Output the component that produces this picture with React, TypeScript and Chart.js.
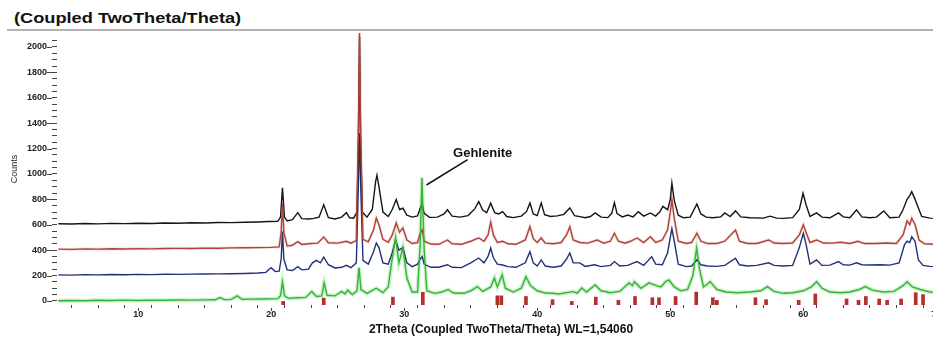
import React, { useEffect, useRef } from "react";
import { Chart, registerables } from "chart.js";

Chart.register(...registerables);

// ---- data (2Theta in degrees, intensity in counts) ----
const blackTrace: number[][] = [
  [4, 608], [5, 606], [6, 610], [7, 607], [8, 611], [9, 609], [10, 612], [11, 610], [12, 614], [13, 612],
  [14, 616], [15, 614], [16, 618], [17, 617], [18, 620], [19, 622], [19.8, 625], [20.5, 627], [20.7, 660],
  [20.85, 890], [21.0, 660], [21.2, 630], [21.6, 640], [22.0, 695], [22.3, 648], [22.8, 645], [23.2, 650],
  [23.6, 660], [23.95, 758], [24.3, 655], [24.8, 645], [25.3, 660], [25.65, 695], [25.9, 655], [26.2, 652],
  [26.45, 700], [26.55, 1200], [26.64, 2080], [26.73, 1200], [26.85, 700], [27.2, 660], [27.6, 720],
  [27.85, 940], [27.95, 990], [28.1, 900], [28.4, 700], [28.8, 665], [29.1, 720], [29.4, 798], [29.65, 720],
  [29.9, 730], [30.2, 675], [30.6, 660], [31.0, 670], [31.2, 730], [31.35, 760], [31.5, 690], [31.9, 658],
  [32.5, 660], [33.0, 685], [33.25, 718], [33.6, 668], [34.2, 660], [34.8, 672], [35.3, 725], [35.6, 782],
  [35.9, 715], [36.2, 695], [36.5, 770], [36.8, 695], [37.1, 685], [37.4, 703], [37.7, 665], [38.2, 656],
  [38.8, 668], [39.2, 705], [39.45, 772], [39.7, 685], [40.0, 672], [40.3, 772], [40.55, 680], [41.0, 665],
  [41.5, 670], [42.0, 682], [42.45, 732], [42.8, 672], [43.2, 664], [43.6, 655], [44.0, 665], [44.35, 693],
  [44.8, 660], [45.3, 656], [45.6, 690], [45.8, 774], [46.0, 688], [46.4, 662], [46.8, 677], [47.2, 662],
  [47.6, 703], [48.0, 668], [48.5, 693], [48.9, 668], [49.2, 700], [49.45, 745], [49.8, 718], [50.0, 800],
  [50.12, 928], [50.3, 790], [50.6, 675], [51.0, 655], [51.5, 660], [52.0, 764], [52.3, 685], [52.7, 660],
  [53.2, 655], [53.8, 662], [54.1, 693], [54.5, 665], [54.9, 709], [55.3, 662], [56.0, 655], [57.0, 652],
  [57.5, 668], [58.0, 652], [58.5, 650], [59.2, 656], [59.7, 720], [59.98, 848], [60.2, 760], [60.5, 665],
  [61.0, 693], [61.4, 660], [62.0, 655], [62.65, 693], [63.0, 662], [63.5, 655], [64.0, 717], [64.4, 662],
  [65.0, 655], [65.5, 660], [66.05, 709], [66.5, 655], [67.2, 660], [67.5, 720], [67.8, 800], [68.0, 830],
  [68.15, 861], [68.4, 800], [68.65, 732], [68.9, 665], [69.5, 652], [70.8, 650],
];

const redTrace: number[][] = [
  [4, 408], [5, 406], [6, 410], [7, 408], [8, 411], [9, 409], [10, 412], [11, 410], [12, 413], [13, 414],
  [14, 413], [15, 416], [16, 415], [17, 418], [18, 419], [19, 420], [20, 422], [20.6, 426], [20.75, 540],
  [20.85, 770], [20.95, 540], [21.2, 432], [21.6, 438], [22.0, 467], [22.3, 445], [23.0, 452], [23.5, 455],
  [23.95, 504], [24.3, 458], [25.0, 455], [25.65, 470], [26.0, 455], [26.4, 475], [26.55, 1300], [26.64, 2110],
  [26.73, 1300], [26.9, 485], [27.3, 465], [27.7, 560], [27.9, 653], [28.1, 600], [28.4, 485], [28.8, 462],
  [29.1, 520], [29.4, 614], [29.65, 540], [29.9, 575], [30.2, 480], [30.6, 452], [31.0, 460], [31.2, 530],
  [31.35, 560], [31.5, 470], [32.0, 448], [32.6, 446], [33.25, 480], [33.6, 450], [34.3, 446], [35.0, 470],
  [35.6, 496], [36.0, 470], [36.3, 520], [36.5, 620], [36.7, 520], [37.0, 460], [37.4, 470], [37.8, 450],
  [38.4, 446], [39.1, 480], [39.45, 585], [39.7, 490], [40.0, 460], [40.3, 496], [40.6, 455], [41.2, 450],
  [41.8, 460], [42.2, 520], [42.45, 585], [42.7, 480], [43.2, 460], [43.8, 455], [44.5, 480], [45.0, 455],
  [45.5, 470], [45.8, 533], [46.1, 470], [46.6, 455], [47.0, 470], [47.5, 496], [48.0, 460], [48.5, 506],
  [48.9, 460], [49.4, 480], [49.8, 560], [50.0, 700], [50.12, 795], [50.3, 650], [50.6, 470], [51.2, 452],
  [51.6, 460], [52.0, 533], [52.3, 470], [52.8, 452], [53.5, 452], [54.1, 470], [54.9, 559], [55.2, 470],
  [55.8, 452], [56.5, 452], [57.4, 480], [57.8, 456], [58.5, 452], [59.2, 456], [59.7, 520], [60.0, 600],
  [60.2, 540], [60.5, 460], [61.0, 480], [61.5, 456], [62.2, 455], [62.8, 462], [63.5, 452], [64.1, 470],
  [64.6, 452], [65.5, 452], [66.2, 456], [67.0, 452], [67.5, 520], [67.8, 630], [68.0, 600], [68.15, 651],
  [68.4, 600], [68.7, 480], [69.1, 450], [70.8, 442],
];

const blueTrace: number[][] = [
  [4, 205], [5, 203], [6, 207], [7, 205], [8, 208], [9, 206], [10, 209], [11, 207], [12, 210], [13, 209],
  [14, 211], [15, 212], [16, 213], [17, 214], [18, 216], [19, 220], [19.6, 225], [19.8, 245], [20.0, 262],
  [20.3, 232], [20.6, 235], [20.75, 330], [20.85, 546], [20.95, 330], [21.2, 245], [21.6, 240], [22.0, 270],
  [22.3, 245], [22.8, 250], [23.1, 300], [23.4, 320], [23.7, 300], [23.95, 345], [24.3, 285], [24.8, 260],
  [25.3, 265], [25.65, 280], [26.0, 262], [26.4, 300], [26.55, 900], [26.64, 1320], [26.73, 900], [26.9, 320],
  [27.3, 290], [27.7, 390], [27.9, 457], [28.1, 420], [28.4, 300], [28.8, 290], [29.1, 380], [29.35, 480],
  [29.6, 400], [29.9, 420], [30.2, 300], [30.6, 270], [31.0, 290], [31.2, 330], [31.35, 350], [31.5, 290],
  [32.0, 265], [32.6, 265], [33.25, 285], [33.6, 265], [34.3, 262], [35.0, 300], [35.6, 338], [36.0, 300],
  [36.3, 350], [36.5, 417], [36.7, 340], [37.0, 290], [37.4, 283], [37.8, 270], [38.4, 265], [39.1, 300],
  [39.45, 388], [39.7, 300], [40.0, 275], [40.3, 323], [40.6, 275], [41.2, 265], [41.8, 275], [42.2, 330],
  [42.45, 378], [42.7, 300], [43.2, 300], [43.6, 272], [44.3, 285], [44.8, 270], [45.5, 280], [45.8, 310],
  [46.2, 275], [46.8, 280], [47.5, 310], [48.0, 280], [48.6, 349], [48.9, 290], [49.4, 285], [49.8, 380],
  [50.0, 500], [50.12, 570], [50.3, 470], [50.6, 290], [51.2, 270], [51.6, 275], [52.0, 323], [52.3, 285],
  [52.8, 275], [53.5, 272], [54.1, 280], [54.9, 336], [55.2, 285], [55.8, 275], [56.5, 280], [57.4, 300],
  [57.8, 280], [58.5, 275], [59.2, 280], [59.7, 420], [60.0, 533], [60.2, 450], [60.5, 290], [61.0, 323],
  [61.4, 280], [62.0, 282], [62.65, 310], [63.0, 285], [63.5, 282], [64.0, 300], [64.4, 285], [65.0, 283],
  [65.8, 285], [66.5, 282], [67.2, 300], [67.6, 441], [67.8, 470], [68.0, 460], [68.15, 506], [68.4, 470],
  [68.65, 323], [69.0, 280], [69.5, 272], [70.8, 270],
];

const greenTrace: number[][] = [
  [4, 2], [5, 4], [6, 1], [7, 5], [8, 3], [9, 6], [10, 4], [11, 6], [12, 5], [13, 7], [14, 6], [15, 8],
  [15.8, 9], [16.15, 26], [16.5, 10], [17.0, 12], [17.45, 40], [17.8, 13], [18.5, 14], [19.5, 15], [20.5, 18],
  [20.7, 40], [20.85, 150], [21.0, 40], [21.3, 20], [22.0, 25], [22.6, 28], [23.05, 75], [23.4, 35], [23.8, 40],
  [23.98, 142], [24.2, 45], [24.8, 40], [25.3, 75], [25.55, 55], [25.75, 85], [26.1, 50], [26.45, 80],
  [26.6, 262], [26.75, 90], [27.2, 60], [27.9, 100], [28.4, 65], [28.8, 110], [29.05, 300], [29.35, 500],
  [29.6, 300], [29.9, 420], [30.2, 180], [30.6, 70], [31.0, 70], [31.2, 450], [31.33, 970], [31.5, 400],
  [31.7, 80], [32.3, 60], [32.8, 70], [33.3, 90], [33.7, 62], [34.5, 60], [35.0, 80], [35.5, 113], [35.9, 75],
  [36.5, 110], [36.78, 181], [37.0, 110], [37.36, 205], [37.6, 100], [38.2, 70], [38.8, 100], [39.15, 191],
  [39.5, 120], [40.0, 80], [40.6, 62], [41.15, 60], [41.6, 55], [42.2, 65], [42.7, 73], [43.0, 62],
  [43.35, 102], [43.7, 70], [44.35, 126], [44.8, 80], [45.5, 65], [46.2, 75], [46.9, 142], [47.15, 120],
  [47.3, 152], [47.8, 100], [48.4, 142], [49.0, 118], [49.3, 110], [49.65, 152], [49.9, 165], [50.3, 110],
  [50.8, 80], [51.3, 90], [51.7, 200], [51.98, 415], [52.2, 250], [52.5, 110], [53.0, 152], [53.5, 90],
  [54.2, 70], [55.0, 65], [56.0, 70], [56.8, 80], [57.3, 113], [57.8, 75], [58.5, 60], [59.2, 65], [60.0, 80],
  [60.6, 110], [61.0, 152], [61.4, 100], [62.0, 70], [62.8, 65], [63.5, 70], [64.2, 90], [64.65, 113],
  [65.2, 85], [66.0, 70], [66.8, 75], [67.5, 120], [67.8, 152], [68.2, 110], [68.8, 90], [69.5, 70], [70.8, 60],
];

// reference pattern sticks (position, top in counts)
const stickPositions = [20.9, 23.95, 29.15, 31.4, 37.0, 37.3, 39.15, 41.15, 42.6, 44.4, 46.1, 47.35, 48.65,
  49.15, 50.4, 51.95, 53.2, 53.5, 56.4, 57.2, 59.65, 60.9, 63.25, 64.15, 64.7, 65.7, 66.3, 67.35, 68.45, 69.0];
const stickHeights = [0, 22, 30, 68, 40, 40, 35, 10, 0, 30, 5, 35, 25, 25, 35, 70, 25, 5, 25, 10, 5, 55, 15,
  5, 35, 15, 5, 15, 65, 50];

const xMajorLabels = [10, 20, 30, 40, 50, 60, 70];
const yMajorLabels = [0, 200, 400, 600, 800, 1000, 1200, 1400, 1600, 1800, 2000];

const X_MIN = 3.9;
const X_MAX = 70.65;
const Y_MIN = -32;
const Y_MAX = 2110;

const annotationText = "Gehlenite";
const annotationLabelAt = [35.9, 1165];
const annotationLineFrom = [34.77, 1113];
const annotationLineTo = [31.67, 913];

const FONT = '"Liberation Sans", Arial, sans-serif';

const toXY = (arr: number[][]) => arr.map(([x, y]) => ({ x, y }));

const extrasPlugin = {
  id: "extras",
  afterDatasetsDraw(chart: any) {
    const { ctx, scales } = chart;
    const x = scales.x;
    const y = scales.y;
    ctx.save();
    // longer major ticks
    ctx.strokeStyle = "#444";
    ctx.lineWidth = 1;
    yMajorLabels.forEach((v) => {
      const py = Math.round(y.getPixelForValue(v)) + 0.5;
      ctx.beginPath();
      ctx.moveTo(x.left - 10, py);
      ctx.lineTo(x.left - 5, py);
      ctx.stroke();
    });
    xMajorLabels.forEach((v) => {
      const px = Math.round(x.getPixelForValue(v)) + 0.5;
      ctx.beginPath();
      ctx.moveTo(px, y.bottom + 3);
      ctx.lineTo(px, y.bottom + 6);
      ctx.stroke();
    });
    // annotation
    ctx.strokeStyle = "#111";
    ctx.lineWidth = 1.5;
    ctx.beginPath();
    ctx.moveTo(x.getPixelForValue(annotationLineFrom[0]), y.getPixelForValue(annotationLineFrom[1]));
    ctx.lineTo(x.getPixelForValue(annotationLineTo[0]), y.getPixelForValue(annotationLineTo[1]));
    ctx.stroke();
    ctx.fillStyle = "#111";
    ctx.font = `bold 13px ${FONT}`;
    ctx.textAlign = "center";
    ctx.textBaseline = "middle";
    ctx.fillText(annotationText, x.getPixelForValue(annotationLabelAt[0]), y.getPixelForValue(annotationLabelAt[1]));
    ctx.restore();
  },
};

export default function App() {
  const canvasRef = useRef<HTMLCanvasElement | null>(null);

  useEffect(() => {
    if (!canvasRef.current) return;
    const xTicks: number[] = [];
    for (let v = 4; v <= 70; v += 2) xTicks.push(v);
    const yTicks: number[] = [];
    for (let v = 0; v <= 2050; v += 50) yTicks.push(v);

    const lineDs = (label: string, data: number[][], color: string, width: number) => ({
      type: "line" as const,
      label,
      data: toXY(data),
      borderColor: color,
      borderWidth: width,
      pointRadius: 0,
      tension: 0,
      fill: false,
    });

    const chart = new Chart(canvasRef.current, {
      type: "line",
      data: {
        datasets: [
          {
            type: "bar" as const,
            label: "reference",
            data: stickPositions.map((p, i) => ({ x: p, y: [Y_MIN, stickHeights[i]] })) as any,
            backgroundColor: "#b3302b",
            barThickness: 3,
          } as any,
          lineDs("green", greenTrace, "#34b534", 1.4),
          lineDs("red", redTrace, "#ad4439", 1.4),
          lineDs("black", blackTrace, "#151515", 1.4),
          lineDs("blue", blueTrace, "#22307a", 1.4),
          lineDs("green glow", greenTrace, "rgba(110,215,110,0.35)", 4),
          lineDs("red glow", redTrace, "rgba(220,130,120,0.25)", 3),
        ],
      },
      options: {
        animation: false,
        responsive: false,
        devicePixelRatio: 1,
        layout: { padding: { top: 33, left: 0, right: 5, bottom: 0 } },
        plugins: { legend: { display: false }, tooltip: { enabled: false } },
        scales: {
          x: {
            type: "linear",
            min: X_MIN,
            max: X_MAX,
            offset: false,
            afterBuildTicks: (scale: any) => {
              scale.ticks = xTicks.map((v) => ({ value: v }));
            },
            afterFit: (scale: any) => {
              scale.height = 34;
            },
            grid: { drawOnChartArea: false, tickLength: 3, tickColor: "#444" },
            border: { display: false },
            ticks: {
              autoSkip: false,
              maxRotation: 0,
              padding: 1,
              color: "#222",
              font: { family: FONT, size: 9, weight: "bold" },
              callback: (v: any) => (xMajorLabels.includes(Number(v)) ? String(v) : ""),
            },
            title: {
              display: true,
              text: "2Theta (Coupled TwoTheta/Theta) WL=1,54060",
              color: "#111",
              font: { family: FONT, size: 12, weight: "bold" },
              padding: { top: 0, bottom: 2 },
            },
          },
          y: {
            type: "linear",
            min: Y_MIN,
            max: Y_MAX,
            afterBuildTicks: (scale: any) => {
              scale.ticks = yTicks.map((v) => ({ value: v }));
            },
            afterFit: (scale: any) => {
              scale.width = 57;
            },
            grid: { drawOnChartArea: false, tickLength: 5, tickColor: "#444" },
            border: { display: false },
            ticks: {
              autoSkip: false,
              padding: 5,
              color: "#222",
              font: { family: FONT, size: 9, weight: "bold" },
              callback: (v: any) => (yMajorLabels.includes(Number(v)) ? String(v) : ""),
            },
            title: {
              display: true,
              text: "Counts",
              color: "#222",
              font: { family: FONT, size: 9 },
              padding: { top: 9, bottom: 0 },
            },
          },
        },
      },
      plugins: [extrasPlugin],
    });
    return () => chart.destroy();
  }, []);

  return (
    <div
      style={{
        position: "absolute",
        left: 0,
        top: 0,
        width: 933,
        height: 339,
        overflow: "hidden",
        background: "#fff",
      }}
    >
      <div
        style={{
          position: "absolute",
          left: 14,
          top: 9,
          fontFamily: FONT,
          fontWeight: "bold",
          fontSize: 14,
          lineHeight: "18px",
          color: "#111",
          whiteSpace: "nowrap",
          transform: "scaleX(1.3)",
          transformOrigin: "left center",
        }}
      >
        (Coupled TwoTheta/Theta)
      </div>
      <div
        style={{
          position: "absolute",
          left: 7,
          top: 29,
          width: 926,
          height: 2,
          background: "#b4b4b4",
        }}
      />
      <canvas
        ref={canvasRef}
        width={950}
        height={339}
        style={{ position: "absolute", left: 0, top: 0, width: 950, height: 339 }}
      />
    </div>
  );
}
